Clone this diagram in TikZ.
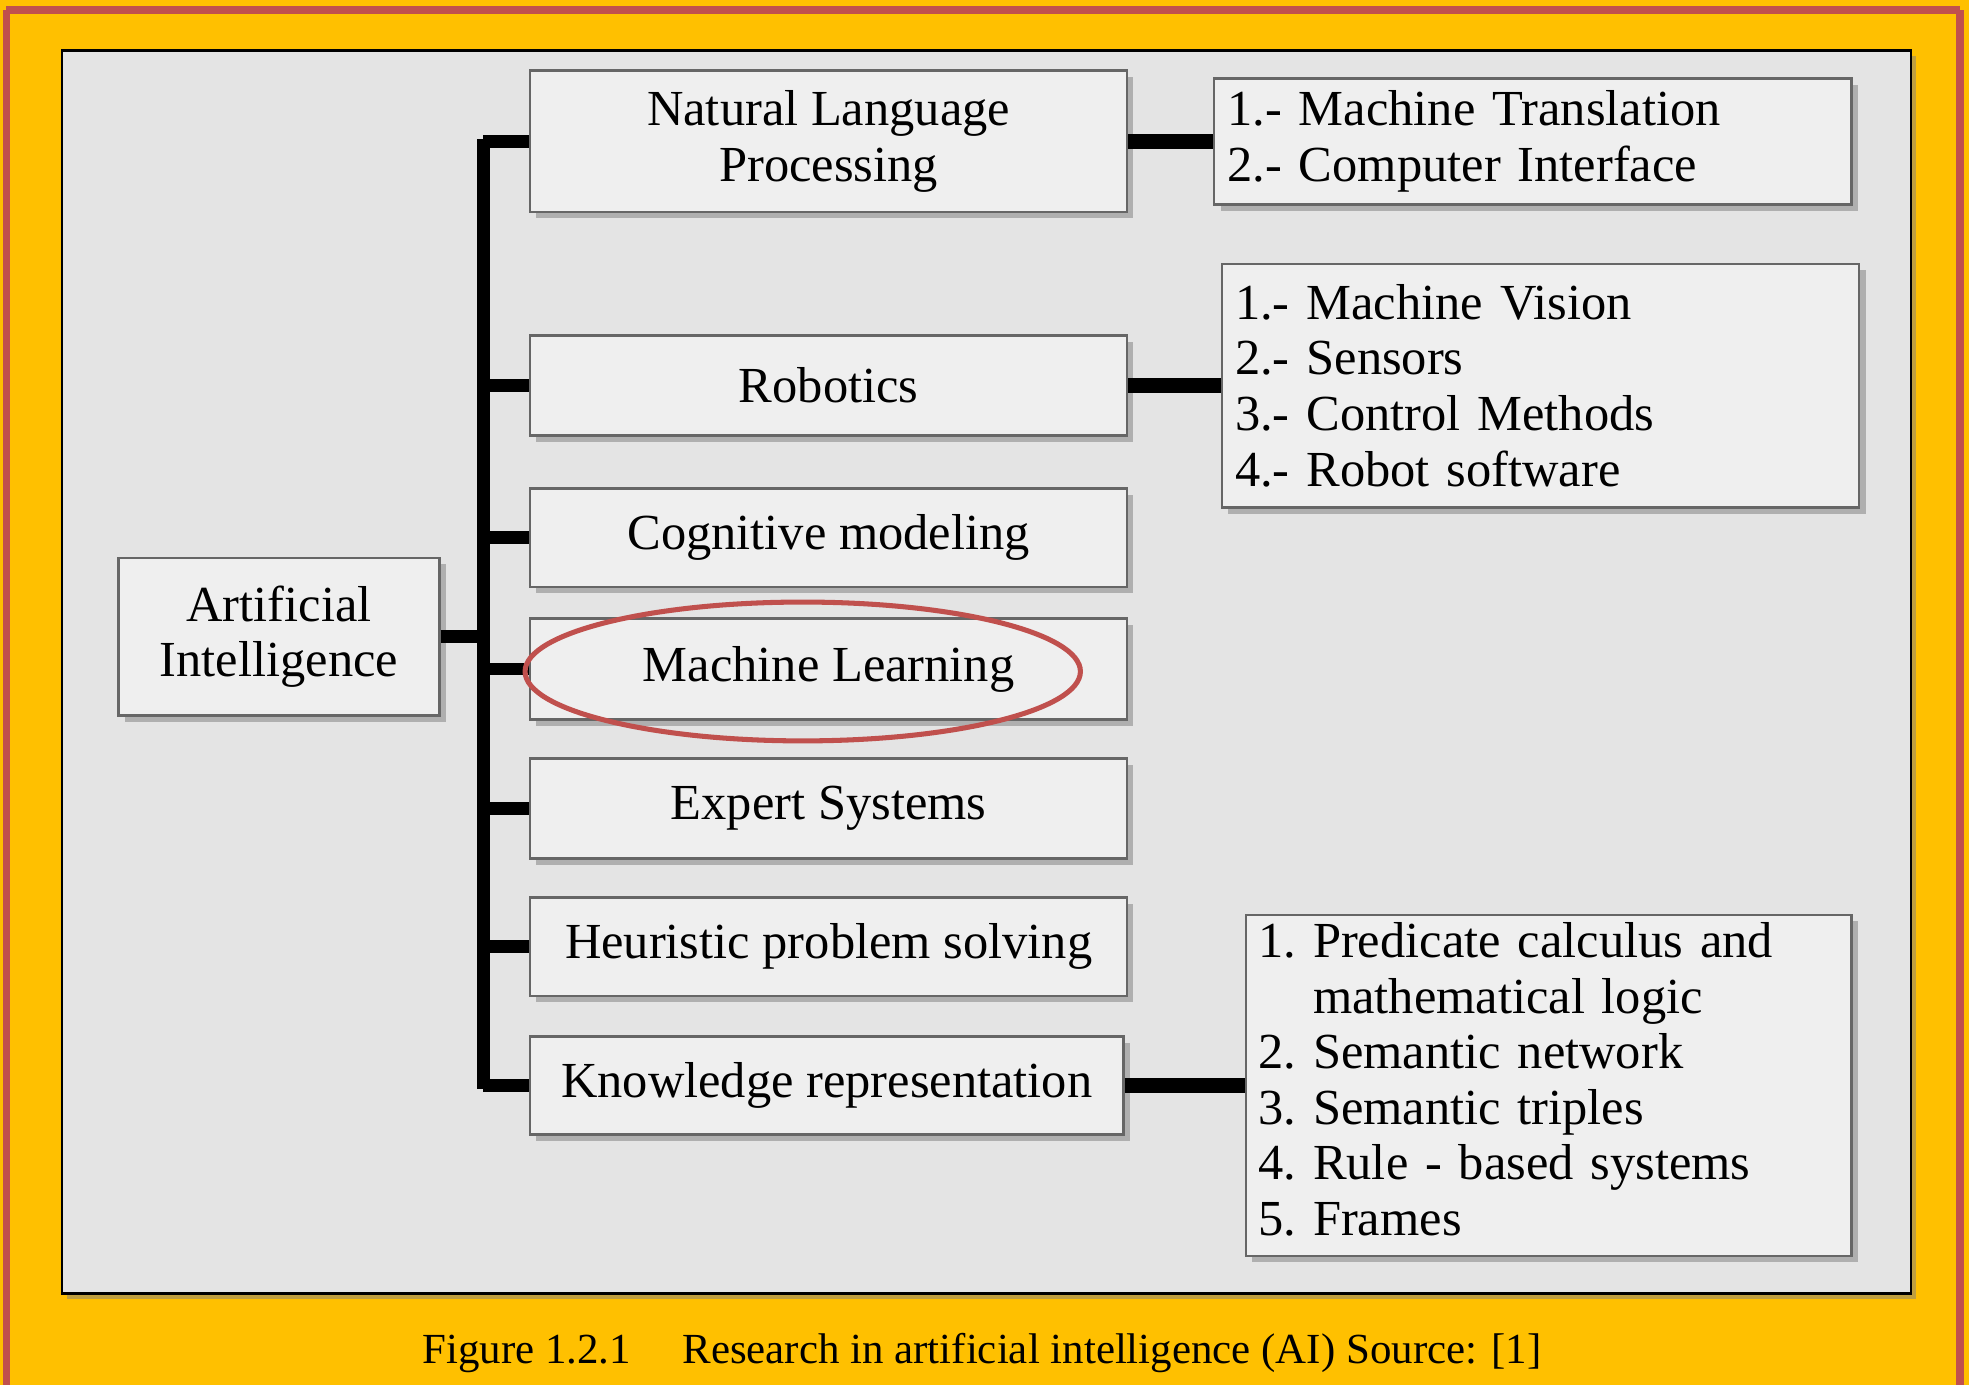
\documentclass[tikz,border=0pt]{standalone}
\usepackage{fontspec}
\setmainfont{Liberation Serif}
\usetikzlibrary{shadows}
\definecolor{orng}{HTML}{FFC000}
\definecolor{redb}{HTML}{C0504D}
\definecolor{panel}{HTML}{E4E4E4}
\definecolor{boxf}{HTML}{EFEFEF}
\tikzset{
 bx/.style={draw=black!60,line width=1pt,fill=boxf,inner sep=0pt,
   drop shadow={shadow xshift=2.5pt,shadow yshift=-2.5pt,fill=black!45,opacity=0.6},
   font=\fontsize{20}{22}\selectfont},
 trunk/.style={line width=5pt},
 thk/.style={line width=6pt}
}
\begin{document}
\begin{tikzpicture}[x=0.5pt,y=-0.5pt]
\useasboundingbox (0,0) rectangle (1560,1097);
\fill[orng] (0,0) rectangle (1560,1097);
\draw[redb,line width=3pt] (5,8) -- (5,1097) (1553,8) -- (1553,1097) (5,8) -- (1553,8);
\node[draw=black,line width=1pt,fill=panel,inner sep=0pt,minimum width=732.5pt,minimum height=492.5pt,
  drop shadow={shadow xshift=2pt,shadow yshift=-2pt,fill=black!50}] (panel) at (781.5,532.5) {};
\node[bx,minimum width=127pt,minimum height=62.5pt,align=center] (ai) at (221,504.5) {Artificial\\Intelligence};
\node[bx,minimum width=236.5pt,minimum height=56pt,align=center] (nlp) at (656.5,112) {Natural Language\\Processing};
\node[bx,minimum width=236.5pt,minimum height=39.5pt] (rob) at (656.5,305.5) {Robotics};
\node[bx,minimum width=236.5pt,minimum height=39pt] (cog) at (656.5,426) {Cognitive modeling};
\node[bx,minimum width=236.5pt,minimum height=40pt] (ml) at (656.5,530) {Machine Learning};
\node[bx,minimum width=236.5pt,minimum height=39.5pt] (exp) at (656.5,640.5) {Expert Systems};
\node[bx,minimum width=236.5pt,minimum height=39pt] (heu) at (656.5,750) {Heuristic problem solving};
\node[bx,minimum width=235pt,minimum height=39pt] (kno) at (655,860) {Knowledge representation};
\node[bx,minimum width=252.5pt,minimum height=50pt,align=left,text width=242pt] (mt) at (1214.5,112)
 {1.- Machine Translation\\2.- Computer Interface};
\node[bx,minimum width=252.5pt,minimum height=96.5pt,align=left,text width=242pt] (rl) at (1220.5,305.5)
 {1.- Machine Vision\\2.- Sensors\\3.- Control Methods\\4.- Robot software};
\node[bx,minimum width=240pt,minimum height=135pt,text width=230pt,align=left] (kl) at (1227,860)
 {\begin{tabular}{@{}l@{\ }l@{}}1.&Predicate calculus and\\ &mathematical logic\\2.&Semantic network\\3.&Semantic triples\\4.&Rule - based systems\\5.&Frames\end{tabular}};
\draw[trunk] (383,110.5) -- (383,862.5);
\draw[trunk] (ai.east) -- (383,504.5);
\foreach \n in {nlp,rob,cog,ml,exp,heu,kno}{
  \draw[trunk] (383,0 |- \n.west) -- (\n.west);
}
\draw[thk] (nlp.east) -- (mt.west |- nlp.east);
\draw[thk] (rob.east) -- (rl.west |- rob.east);
\draw[thk] (kno.east) -- (kl.west |- kno.east);
\draw[redb,line width=2pt] (636,532) ellipse [x radius=220,y radius=55];
\node[font=\fontsize{17}{20}\selectfont] (cap) at (778,1072) {Figure 1.2.1\hspace{1.2em}Research in artificial intelligence (AI) Source: [1]};
\end{tikzpicture}
\end{document}
